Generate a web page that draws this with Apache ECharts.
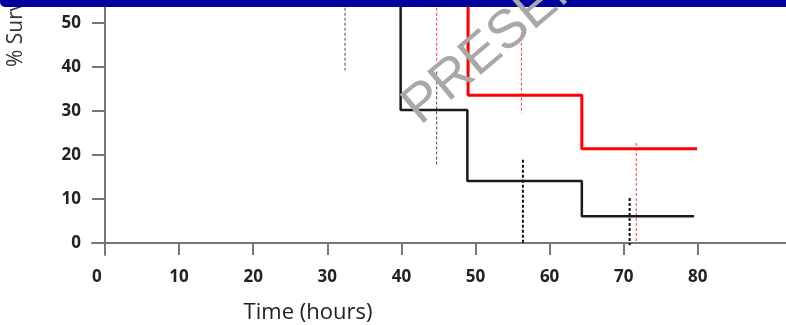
<!DOCTYPE html>
<html>
<head>
<meta charset="utf-8">
<script src="https://cdn.jsdelivr.net/npm/echarts@6/dist/echarts.min.js"></script>
<style>
  html, body { margin: 0; padding: 0; background: #fff; }
  #chart { width: 786px; height: 325px; }
</style>
</head>
<body>
<div id="chart"></div>
<script>
// survival curves (time in hours, % survival)
const blackTimes = [0, 39.9, 48.9, 64.35, 79.5];
const blackSurvival = [100, 30.2, 14.1, 6.1, 6.1];
const redTimes = [0, 49.0, 64.35, 79.9];
const redSurvival = [100, 33.6, 21.4, 21.4];

// dashed vertical marks: [time, top, bottom]
const greyMarks = [[32.4, 58, 39.2], [44.75, 39, 17.7]];
const blackMarks = [[56.4, 18.9, 0], [70.8, 10.2, -0.5]];
const pinkMarks = [[44.75, 58, 41], [56.2, 48.9, 29.5], [71.7, 22.7, 0]];

const xTicks = [0, 10, 20, 30, 40, 50, 60, 70, 80];
const yTicks = [0, 10, 20, 30, 40, 50];

const labelFont = { color: '#222', fontSize: 17, fontWeight: 'bold', fontFamily: 'Open Sans' };

const toPoints = (times, vals) => times.map((t, i) => [t, vals[i]]);

const markSeries = (marks, color, width) => marks.map((m) => ({
  type: 'line',
  data: [[m[0], m[1]], [m[0], m[2]]],
  symbol: 'none',
  silent: true,
  lineStyle: { color, width, type: [3, 2] },
  z: 2,
}));

const chart = echarts.init(document.getElementById('chart'));
chart.setOption({
  animation: false,
  backgroundColor: '#fff',
  grid: { left: 92, right: 0, top: 0, bottom: 70 },
  xAxis: {
    type: 'value',
    min: -1.75,
    max: 91.9,
    splitLine: { show: false },
    axisLine: { onZero: true, lineStyle: { color: '#777', width: 2 } },
    axisTick: { customValues: xTicks, length: 12, lineStyle: { color: '#777', width: 2 } },
    axisLabel: {
      customValues: xTicks,
      margin: 14,
      ...labelFont,
      formatter: (v) => (v === 0 ? '{z|0}' : String(v)),
      rich: { z: { ...labelFont, padding: [0, 16, 0, 0] } },
    },
  },
  yAxis: {
    type: 'value',
    min: -2.73,
    max: 55.23,
    splitLine: { show: false },
    axisLine: { onZero: true, lineStyle: { color: '#777', width: 2 } },
    axisTick: { customValues: yTicks, length: 13, lineStyle: { color: '#777', width: 2 } },
    axisLabel: { customValues: yTicks, margin: 11, ...labelFont },
  },
  series: [
    ...markSeries(greyMarks, '#666', 1.2),
    ...markSeries(pinkMarks, '#ff5a5a', 1.2),
    ...markSeries(blackMarks, '#111', 2),
    {
      name: 'Black',
      type: 'line',
      step: 'end',
      symbol: 'none',
      data: toPoints(blackTimes, blackSurvival),
      lineStyle: { color: '#1a1a1a', width: 2.5 },
      z: 3,
    },
    {
      name: 'Red',
      type: 'line',
      step: 'end',
      symbol: 'none',
      data: toPoints(redTimes, redSurvival),
      lineStyle: { color: '#ff0000', width: 3 },
      z: 4,
    },
  ],
  graphic: [
    {
      type: 'text',
      x: 16,
      y: 67,
      rotation: Math.PI / 2,
      style: {
        text: '% Survival',
        fill: '#333',
        font: '21px "Open Sans"',
        textAlign: 'left',
        textVerticalAlign: 'middle',
      },
    },
    {
      type: 'text',
      x: 308,
      y: 313,
      style: {
        text: 'Time (hours)',
        fill: '#222',
        font: '22px "Open Sans"',
        textAlign: 'center',
        textVerticalAlign: 'middle',
      },
    },
    {
      type: 'rect',
      shape: { x: 0, y: -12, width: 800, height: 19, r: 5 },
      style: { fill: '#00009c' },
      z: 10,
    },
    {
      type: 'text',
      x: 428,
      y: 135,
      rotation: 0.7,
      style: {
        text: 'PRESENTED',
        fill: '#a8a8a8',
        font: '54px "Liberation Sans"',
        textAlign: 'left',
        textVerticalAlign: 'bottom',
      },
      z: 20,
    },
  ],
});
</script>
</body>
</html>
